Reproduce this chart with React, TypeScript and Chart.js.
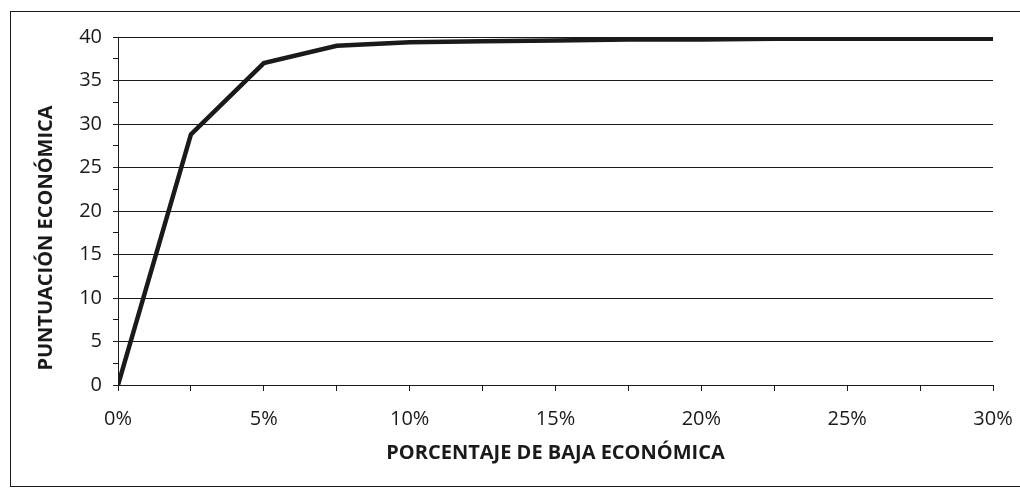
import React, { useEffect, useRef } from 'react';
import { Chart, registerables } from 'chart.js';

Chart.register(...registerables);

// Data
const bajaPct = [0, 2.5, 5, 7.5, 10, 12.5, 15, 17.5, 20, 22.5, 25, 27.5, 30];
const puntuacion = [0, 28.8, 37.0, 39.0, 39.4, 39.5, 39.6, 39.7, 39.7, 39.8, 39.8, 39.8, 39.8];
const xMajorStep = 5;
const yMajorStep = 5;
const yTitle = 'PUNTUACIÓN ECONÓMICA';
const xTitle = 'PORCENTAJE DE BAJA ECONÓMICA';

const FONT = '"Open Sans", "Liberation Sans", sans-serif';
const INK = '#1a1a1a';

const isMajor = (v: number, step: number) => Math.abs(v / step - Math.round(v / step)) < 1e-6;

const yTitlePlugin = {
  id: 'yTitlePlugin',
  afterDraw(chart: any) {
    const ctx = chart.ctx;
    ctx.save();
    ctx.translate(46, 238);
    ctx.rotate(-Math.PI / 2);
    ctx.font = `bold 20px ${FONT}`;
    ctx.fillStyle = INK;
    ctx.textAlign = 'center';
    ctx.textBaseline = 'middle';
    ctx.fillText(yTitle, 0, 0);
    ctx.restore();
  },
};

export default function App() {
  const canvasRef = useRef<HTMLCanvasElement | null>(null);

  useEffect(() => {
    if (!canvasRef.current) return;
    const chart = new Chart(canvasRef.current, {
      type: 'line',
      data: {
        datasets: [
          {
            data: bajaPct.map((x, i) => ({ x, y: puntuacion[i] })),
            borderColor: INK,
            borderWidth: 4.5,
            pointRadius: 0,
            tension: 0,
            fill: false,
          },
        ],
      },
      options: {
        responsive: false,
        animation: false,
        layout: { padding: { left: 0, right: 27, top: 37, bottom: 0 } },
        plugins: {
          legend: { display: false },
          tooltip: { enabled: false },
          title: { display: false },
        },
        scales: {
          x: {
            type: 'linear',
            min: 0,
            max: 30,
            afterFit: (scale: any) => {
              scale.height = 110;
              scale.paddingLeft = 0;
              scale.paddingRight = 0;
            },
            ticks: {
              stepSize: 2.5,
              autoSkip: false,
              maxRotation: 0,
              padding: 16,
              color: INK,
              font: { family: FONT, size: 20 },
              callback: (v: any) => (isMajor(Number(v), xMajorStep) ? `${v}%` : ''),
            },
            grid: {
              drawOnChartArea: false,
              drawTicks: true,
              tickLength: 6,
              tickColor: INK,
              lineWidth: 1,
            },
            border: { display: true, color: INK, width: 1 },
            title: {
              display: true,
              text: xTitle,
              color: INK,
              font: { family: FONT, size: 20, weight: 'bold' },
              padding: { top: 0, bottom: 30 },
            },
          },
          y: {
            type: 'linear',
            min: 0,
            max: 40,
            afterFit: (scale: any) => {
              scale.width = 118;
              scale.paddingTop = 0;
              scale.paddingBottom = 0;
            },
            ticks: {
              stepSize: 2.5,
              autoSkip: false,
              padding: 11,
              color: INK,
              font: { family: FONT, size: 20 },
              callback: (v: any) => (isMajor(Number(v), yMajorStep) ? `${v}` : ''),
            },
            grid: {
              color: (ctx: any) =>
                ctx.tick && isMajor(ctx.tick.value, yMajorStep) ? INK : 'rgba(0,0,0,0)',
              tickColor: INK,
              tickLength: 5,
              lineWidth: 1,
            },
            border: { display: true, color: INK, width: 1 },
          },
        },
      },
      plugins: [yTitlePlugin],
    });
    return () => chart.destroy();
  }, []);

  return (
    <div
      style={{
        position: 'fixed',
        left: 0,
        top: 0,
        width: 1020,
        height: 495,
        overflow: 'hidden',
        background: '#fff',
      }}
    >
      <div
        style={{
          position: 'absolute',
          left: 10,
          top: 11,
          width: 1040,
          height: 476,
          border: `1.5px solid ${INK}`,
          boxSizing: 'border-box',
        }}
      />
      <canvas
        ref={canvasRef}
        width={1020}
        height={495}
        style={{ position: 'absolute', left: 0, top: 0 }}
      />
    </div>
  );
}
